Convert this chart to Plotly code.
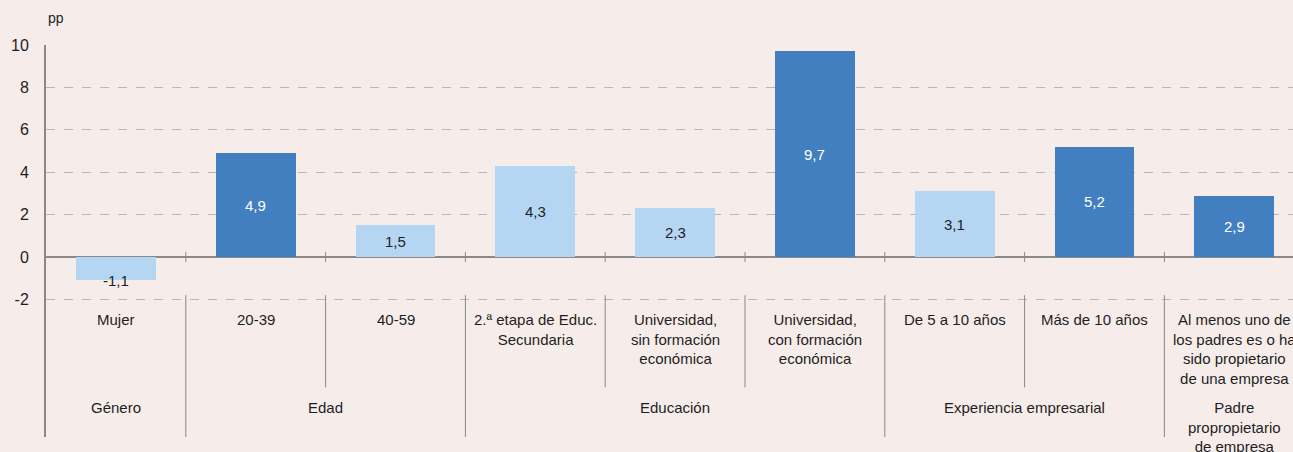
import plotly.graph_objects as go

# ---- data ----
categories = [
    "Mujer",
    "20-39",
    "40-59",
    "2.ª etapa de Educ.<br>Secundaria",
    "Universidad,<br>sin formación<br>económica",
    "Universidad,<br>con formación<br>económica",
    "De 5 a 10 años",
    "Más de 10 años",
    "Al menos uno de<br>los padres es o ha<br>sido propietario<br>de una empresa",
]
values = [-1.1, 4.9, 1.5, 4.3, 2.3, 9.7, 3.1, 5.2, 2.9]
significant = [False, True, False, False, False, True, False, True, True]
groups = ["Género", "Edad", "Educación", "Experiencia empresarial",
          "Padre<br>propropietario<br>de empresa"]
group_sizes = [1, 2, 3, 2, 1]
y_ticks = [-2, 0, 2, 4, 6, 8, 10]

# ---- style ----
BG = "#f6edeb"
DARK = "#427fc1"
LIGHT = "#b4d6f3"
GRID = "#b9b6b5"
AXIS = "#8a8888"
FONT = "Liberation Sans, Arial, sans-serif"
TXT = "#1e1e1e"

W, H = 1293, 452
ML, MT, MB = 46, 45, 15
CAT_W = 139.8
PX_PER_UNIT = 21.2
plot_h = H - MT - MB
y_bottom = 10 - plot_h / PX_PER_UNIT
x_right = -0.5 + (W - ML) / CAT_W

xs = list(range(len(categories)))
colors = [DARK if s else LIGHT for s in significant]

fig = go.Figure()
fig.add_trace(go.Bar(
    x=xs, y=values, width=0.57,
    marker=dict(color=colors, line=dict(width=0)),
    hoverinfo="skip", showlegend=False,
))

annotations = []
# value labels
for x, v, s in zip(xs, values, significant):
    annotations.append(dict(
        x=x, y=(v if v < 0 else v / 2), xref="x", yref="y",
        text=f"{v:.1f}".replace(".", ","), showarrow=False,
        font=dict(family=FONT, size=15, color="white" if s else TXT),
        xanchor="center", yanchor="middle",
    ))

# category labels
for x, c in zip(xs, categories):
    annotations.append(dict(
        x=x, y=-2.45, xref="x", yref="y", text=c, showarrow=False,
        font=dict(family=FONT, size=15, color=TXT),
        xanchor="center", yanchor="top", align="center",
    ))

# group labels and separators
shapes = []
start = 0
for g, n in zip(groups, group_sizes):
    center = start + (n - 1) / 2
    annotations.append(dict(
        x=center, y=-6.6, xref="x", yref="y", text=g, showarrow=False,
        font=dict(family=FONT, size=15, color=TXT),
        xanchor="center", yanchor="top", align="center",
    ))
    for k in range(1, n):
        shapes.append(dict(type="line", xref="x", yref="y",
                           x0=start + k - 0.5, x1=start + k - 0.5,
                           y0=-1.8, y1=-6.15,
                           line=dict(color=AXIS, width=1)))
    end = start + n - 0.5
    shapes.append(dict(type="line", xref="x", yref="y",
                       x0=end, x1=end, y0=-1.8, y1=y_bottom,
                       line=dict(color=AXIS, width=1)))
    start += n

# tick marks on the zero line between categories
for k in range(len(categories)):
    shapes.append(dict(type="line", xref="x", yref="y",
                       x0=k + 0.5, x1=k + 0.5, y0=-0.24, y1=0.24,
                       line=dict(color=AXIS, width=1)))

# unit label
annotations.append(dict(
    x=0, y=1, xref="paper", yref="paper", text="pp", showarrow=False,
    xanchor="left", yanchor="bottom", yshift=17, xshift=0,
    font=dict(family=FONT, size=14, color=TXT),
))

fig.update_layout(
    width=W, height=H,
    margin=dict(l=ML, r=0, t=MT, b=MB, pad=0),
    paper_bgcolor=BG, plot_bgcolor=BG,
    bargap=0,
    annotations=annotations,
    shapes=shapes,
    xaxis=dict(range=[-0.5, x_right], showgrid=False, zeroline=False,
               showticklabels=False, showline=False, ticks="",
               fixedrange=True),
    yaxis=dict(range=[y_bottom, 10], tickvals=y_ticks,
               ticktext=[str(t) for t in y_ticks],
               showgrid=True, gridcolor=GRID, griddash="dash", gridwidth=1,
               zeroline=True, zerolinecolor=AXIS, zerolinewidth=1.5,
               showline=True, linecolor=AXIS, linewidth=2,
               ticks="", ticklabelstandoff=12,
               tickfont=dict(family=FONT, size=16, color=TXT),
               fixedrange=True),
    font=dict(family=FONT, color=TXT),
)

fig.write_html(
    "out.html",
    config={"displayModeBar": False},
    post_script="document.body.style.margin='0';document.body.style.overflow='hidden';",
)
